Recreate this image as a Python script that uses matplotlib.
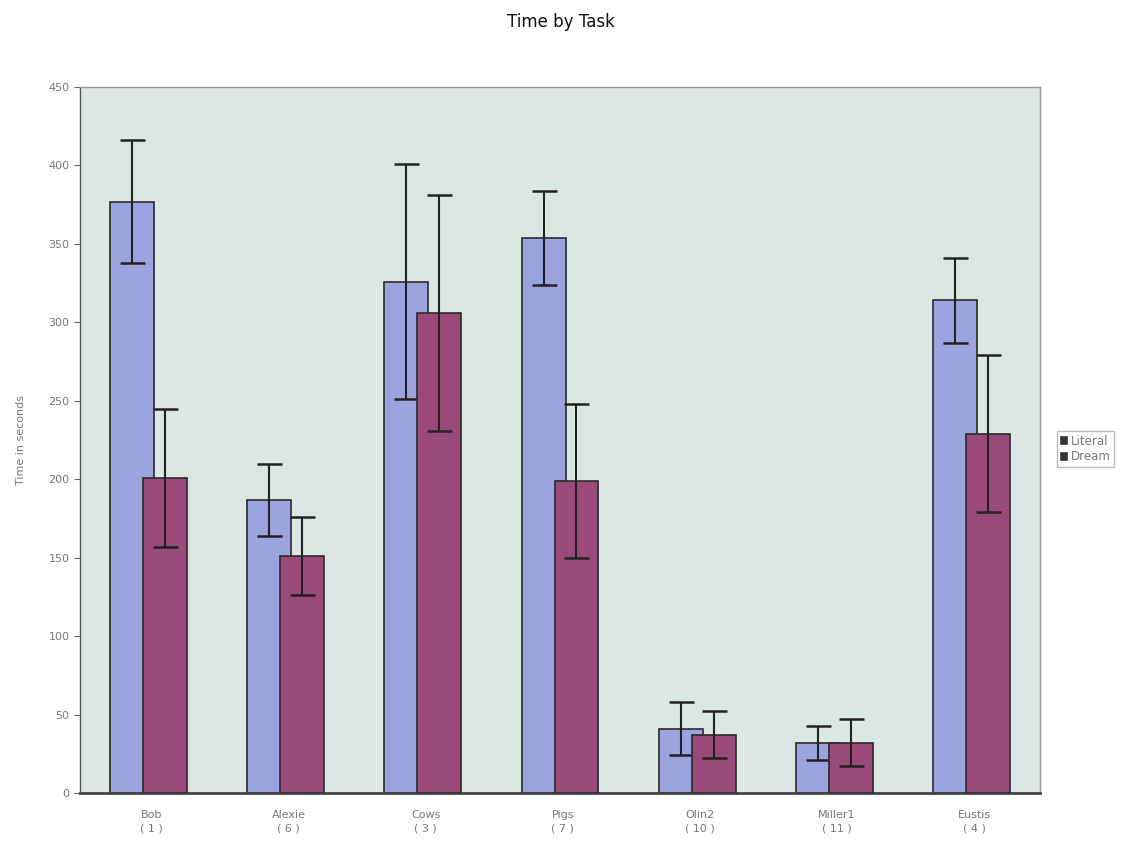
import matplotlib
matplotlib.use("Agg")
import matplotlib.pyplot as plt
import numpy as np

categories = ["Bob\n( 1 )", "Alexie\n( 6 )", "Cows\n( 3 )", "Pigs\n( 7 )",
              "Olin2\n( 10 )", "Miller1\n( 11 )", "Eustis\n( 4 )"]
literal = [377, 187, 326, 354, 41, 32, 314]
literal_err = [39, 23, 75, 30, 17, 11, 27]
dream = [201, 151, 306, 199, 37, 32, 229]
dream_err = [44, 25, 75, 49, 15, 15, 50]
yticks = [0, 50, 100, 150, 200, 250, 300, 350, 400, 450]

fig = plt.figure(figsize=(11.29, 8.43), dpi=100)
ax = fig.add_axes([0.0709, 0.0593, 0.8503, 0.8375])
ax.set_facecolor("#dae7e3")

x = np.arange(len(categories))
w = 0.32
off = 0.12
ax.bar(x - off, literal, w, color="#9ba4de", edgecolor="#2a2a2a", linewidth=1.2,
       label="Literal", zorder=2)
ax.errorbar(x - off, literal, yerr=literal_err, fmt="none", ecolor="#222222",
            elinewidth=1.5, capsize=9, capthick=1.8, zorder=3)
ax.bar(x + off, dream, w, color="#9a4a78", edgecolor="#2a2a2a", linewidth=1.2,
       label="Dream", zorder=4)
ax.errorbar(x + off, dream, yerr=dream_err, fmt="none", ecolor="#222222",
            elinewidth=1.5, capsize=9, capthick=1.8, zorder=5)

ax.set_xlim(-0.5, len(categories) - 0.5)
ax.set_ylim(0, 450)
ax.set_yticks(yticks)
ax.set_xticks(x + 0.02)
ax.set_xticklabels(categories, fontsize=8, color="#777777", linespacing=1.5)
ax.tick_params(axis="y", labelsize=8, labelcolor="#777777", length=4, color="#666666")
ax.tick_params(axis="x", length=0, pad=12)
for s in ax.spines.values():
    s.set_color("#999999")
    s.set_linewidth(1.0)
ax.spines["left"].set_color("#555555")
ax.spines["bottom"].set_color("#444444")
ax.spines["bottom"].set_linewidth(2)

ax.set_ylabel("Time in seconds", fontsize=8, color="#777777", labelpad=16)
fig.suptitle("Time by Task", x=0.497, y=0.985, fontsize=12, color="#111111")

leg = ax.legend(loc="center left", bbox_to_anchor=(1.012, 0.487), fontsize=8.5,
                frameon=True, fancybox=False, edgecolor="#aaaaaa",
                handlelength=0.5, handleheight=0.5, handletextpad=0.3,
                borderpad=0.3, labelspacing=0.2)
for t in leg.get_texts():
    t.set_color("#777777")
for h in leg.legend_handles:
    h.set_color("#333333")

fig.savefig("out.png", dpi=100, facecolor="white")
